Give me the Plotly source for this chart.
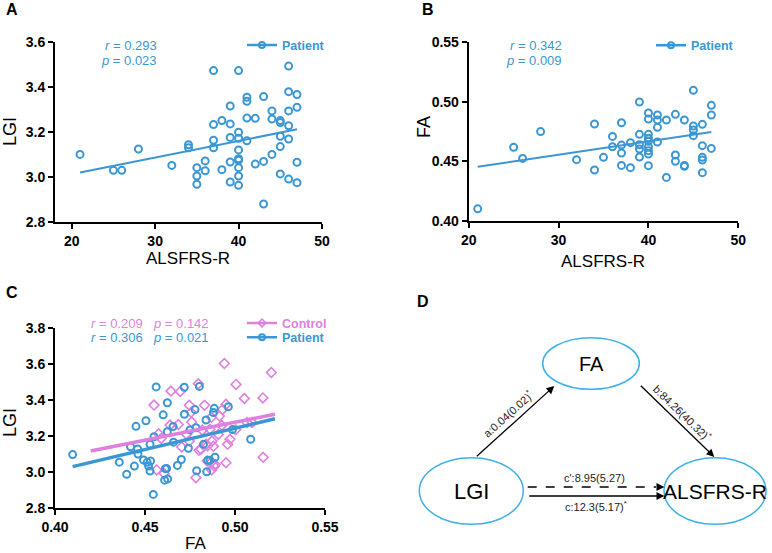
import plotly.graph_objects as go

W, H = 772, 553
FONT = "Arial, 'Liberation Sans', sans-serif"
BLUE = "#3b97d3"
PINK = "#df7fe0"
ELL = "#3eb1e6"

# ---------------- data ----------------
# Panel A: ALSFRS-R vs LGI (patients)
a_alsfrs = [21, 25, 26, 28, 32, 34, 34, 35, 35, 35, 36, 36, 37, 37, 37, 37, 38, 38,
            39, 39, 39, 39, 39, 40, 40, 40, 40, 40, 40, 40, 40, 40, 41, 41, 41, 41,
            42, 42, 43, 43, 43, 44, 44, 44, 45, 45, 45, 45, 45, 46, 46, 46, 46, 46, 46,
            47, 47, 47, 47]
a_lgi = [3.100, 3.029, 3.029, 3.124, 3.051, 3.143, 3.130, 3.041, 3.004, 2.967, 3.071, 3.027,
         3.474, 3.233, 3.163, 3.130, 3.251, 3.032, 3.316, 3.236, 3.176, 3.066, 2.977,
         3.474, 3.199, 3.172, 3.120, 3.081, 3.074, 3.041, 3.004, 2.962,
         3.355, 3.337, 3.262, 3.161, 3.261, 3.057, 3.358, 3.069, 2.879,
         3.294, 3.258, 3.100, 3.251, 3.242, 3.181, 3.135, 3.013,
         3.494, 3.380, 3.294, 3.228, 3.169, 2.990, 3.367, 3.310, 3.065, 2.974]
a_fit_x = [21, 47]
a_fit_y = [3.019, 3.212]

# Panel B: ALSFRS-R vs FA (patients)
b_alsfrs = [21, 25, 26, 28, 32, 34, 34, 35, 36, 36, 37, 37, 37, 37, 38, 38,
            39, 39, 39, 39, 39, 40, 40, 40, 40, 40, 40, 40, 40, 40, 41, 41, 41, 41,
            42, 42, 43, 43, 43, 44, 44, 44, 45, 45, 45, 45, 46, 46, 46, 46, 46, 47, 47, 47]
b_fa = [0.4100, 0.4617, 0.4524, 0.4749, 0.4513, 0.4813, 0.4426, 0.4533, 0.4709, 0.4622,
        0.4824, 0.4636, 0.4569, 0.4465, 0.4656, 0.4446,
        0.4998, 0.4726, 0.4639, 0.4603, 0.4536,
        0.4906, 0.4855, 0.4726, 0.4693, 0.4667, 0.4622, 0.4589, 0.4561, 0.4463,
        0.4889, 0.4847, 0.4785, 0.4662, 0.4847, 0.4364, 0.4894, 0.4552, 0.4499,
        0.4847, 0.4465, 0.4457, 0.5096, 0.4796, 0.4763, 0.4715,
        0.4810, 0.4631, 0.4533, 0.4510, 0.4404, 0.4970, 0.4889, 0.4608]
b_fit_x = [21, 47]
b_fit_y = [0.4454, 0.4746]

# Panel C: FA vs LGI, controls and patients
c_ctrl_fa = [0.4550, 0.4565, 0.4576, 0.4590, 0.4606, 0.4639, 0.4644, 0.4685, 0.4696, 0.4704,
             0.4731, 0.4746, 0.4746, 0.4756, 0.4759, 0.4783, 0.4796, 0.4800, 0.4811, 0.4818,
             0.4831, 0.4840, 0.4846, 0.4848, 0.4861, 0.4865, 0.4869, 0.4870, 0.4872, 0.4880,
             0.4885, 0.4889, 0.4907, 0.4913, 0.4926, 0.4931, 0.4941, 0.4950, 0.4950, 0.4959,
             0.4972, 0.5004, 0.5006, 0.5052, 0.5067, 0.5095, 0.5155, 0.5156, 0.5202]
c_ctrl_lgi = [3.370, 3.010, 3.211, 3.185, 2.990, 3.259, 3.448, 3.262, 3.446, 3.137,
              3.207, 3.170, 3.369, 3.330, 3.276, 2.967, 3.488, 3.119, 3.125, 3.231,
              3.369, 3.152, 3.059, 3.144, 3.236, 3.050, 3.302, 3.010, 3.170, 3.141,
              3.031, 3.040, 3.207, 3.309, 3.257, 3.346, 3.601, 3.050, 3.374, 3.152,
              3.180, 3.233, 3.485, 3.407, 3.273, 3.273, 3.410, 3.080, 3.551]
c_pat_fa = [0.4098, 0.4357, 0.4398, 0.4420, 0.4441, 0.4450, 0.4459, 0.4461, 0.4492, 0.4505,
            0.4512, 0.4520, 0.4528, 0.4528, 0.4531, 0.4550, 0.4546, 0.4562, 0.4601, 0.4609,
            0.4613, 0.4624, 0.4624, 0.4626, 0.4620, 0.4656, 0.4659, 0.4680, 0.4702, 0.4719,
            0.4718, 0.4741, 0.4750, 0.4778, 0.4783, 0.4787, 0.4802, 0.4825, 0.4839, 0.4843,
            0.4848, 0.4861, 0.4880, 0.4885, 0.4889, 0.4963, 0.4986, 0.5087]
c_pat_lgi = [3.095, 3.053, 2.986, 3.138, 3.031, 3.252, 3.126, 3.098, 3.065, 3.283,
             3.052, 3.031, 3.152, 3.004, 3.059, 3.194, 2.874, 3.471, 3.316, 2.953,
             3.017, 3.383, 3.222, 2.960, 3.018, 3.251, 3.164, 3.035, 3.068, 3.319,
             3.469, 3.130, 3.232, 3.345, 3.244, 3.005, 3.474, 3.152, 3.287, 3.000,
             3.063, 3.063, 3.329, 3.352, 3.080, 3.361, 3.234, 3.180]
c_ctrl_fit_x = [0.4198, 0.5222]
c_ctrl_fit_y = [3.115, 3.319]
c_pat_fit_x = [0.4098, 0.5222]
c_pat_fit_y = [3.028, 3.294]

# tick labels
a_xticks = [20, 30, 40, 50]
a_yticks = [2.8, 3.0, 3.2, 3.4, 3.6]
b_yticks = [0.40, 0.45, 0.50, 0.55]
c_xticks = [0.40, 0.45, 0.50, 0.55]
c_yticks = [2.8, 3.0, 3.2, 3.4, 3.6, 3.8]


def px(x):
    return x / W


def py(y):
    return 1 - y / H


fig = go.Figure()

circ = dict(symbol="circle-open", size=7, color=BLUE, line=dict(width=2, color=BLUE))
diam = dict(symbol="diamond-open", size=7.5, color=PINK, line=dict(width=1.6, color=PINK))
diam_leg = dict(symbol="diamond-open", size=6, color=PINK, line=dict(width=1.6, color=PINK))
circ_leg = dict(symbol="circle-open", size=6, color=BLUE, line=dict(width=2, color=BLUE))

# Panel A
fig.add_trace(go.Scatter(x=a_alsfrs, y=a_lgi, mode="markers", marker=circ, showlegend=False,
                         xaxis="x", yaxis="y", cliponaxis=False))
fig.add_trace(go.Scatter(x=a_fit_x, y=a_fit_y, mode="lines", line=dict(color=BLUE, width=2),
                         showlegend=False, xaxis="x", yaxis="y"))
fig.add_trace(go.Scatter(x=[None], y=[None], mode="lines+markers", marker=circ_leg,
                         line=dict(color=BLUE, width=2.5), name="Patient", legend="legend",
                         xaxis="x", yaxis="y"))
# Panel B
fig.add_trace(go.Scatter(x=b_alsfrs, y=b_fa, mode="markers", marker=circ, showlegend=False,
                         xaxis="x2", yaxis="y2", cliponaxis=False))
fig.add_trace(go.Scatter(x=b_fit_x, y=b_fit_y, mode="lines", line=dict(color=BLUE, width=2),
                         showlegend=False, xaxis="x2", yaxis="y2"))
fig.add_trace(go.Scatter(x=[None], y=[None], mode="lines+markers", marker=circ_leg,
                         line=dict(color=BLUE, width=2.5), name="Patient", legend="legend2",
                         xaxis="x2", yaxis="y2"))
# Panel C
fig.add_trace(go.Scatter(x=c_ctrl_fa, y=c_ctrl_lgi, mode="markers", marker=diam, showlegend=False,
                         xaxis="x3", yaxis="y3", cliponaxis=False))
fig.add_trace(go.Scatter(x=c_pat_fa, y=c_pat_lgi, mode="markers", marker=circ, showlegend=False,
                         xaxis="x3", yaxis="y3", cliponaxis=False))
fig.add_trace(go.Scatter(x=c_ctrl_fit_x, y=c_ctrl_fit_y, mode="lines", line=dict(color=PINK, width=3.5),
                         showlegend=False, xaxis="x3", yaxis="y3"))
fig.add_trace(go.Scatter(x=c_pat_fit_x, y=c_pat_fit_y, mode="lines", line=dict(color=BLUE, width=3.5),
                         showlegend=False, xaxis="x3", yaxis="y3"))
fig.add_trace(go.Scatter(x=[None], y=[None], mode="lines+markers", marker=diam_leg,
                         line=dict(color=PINK, width=2.5), name="Control", legend="legend3",
                         xaxis="x3", yaxis="y3"))
fig.add_trace(go.Scatter(x=[None], y=[None], mode="lines+markers", marker=circ_leg,
                         line=dict(color=BLUE, width=2.5), name="Patient", legend="legend4",
                         xaxis="x3", yaxis="y3"))

tickfont = dict(family=FONT, size=14, color="black", weight="bold")
axis_common = dict(showline=True, linecolor="black", linewidth=2, ticks="outside", ticklen=5,
                   tickwidth=2, tickcolor="black", showgrid=False, zeroline=False,
                   tickfont=tickfont, fixedrange=True, automargin=False)

fig.update_layout(
    width=W, height=H, margin=dict(l=0, r=0, t=0, b=0, autoexpand=False),
    paper_bgcolor="white", plot_bgcolor="white",
    xaxis=dict(domain=[px(55), px(322)], range=[18, 50], tickvals=a_xticks, anchor="y", **axis_common),
    yaxis=dict(domain=[py(221.7), py(42.3)], range=[2.8, 3.6], tickvals=a_yticks, tickformat=".1f",
               anchor="x", **axis_common),
    xaxis2=dict(domain=[px(468.7), px(738.3)], range=[20, 50], tickvals=a_xticks, anchor="y2", **axis_common),
    yaxis2=dict(domain=[py(220.7), py(42.3)], range=[0.40, 0.55], tickvals=b_yticks, tickformat=".2f",
                anchor="x2", **axis_common),
    xaxis3=dict(domain=[px(55), px(325)], range=[0.40, 0.55], tickvals=c_xticks, tickformat=".2f",
                anchor="y3", **axis_common),
    yaxis3=dict(domain=[py(507.7), py(327.7)], range=[2.8, 3.8], tickvals=c_yticks, tickformat=".1f",
                anchor="x3", **axis_common),
)

leg_common = dict(bgcolor="rgba(0,0,0,0)", borderwidth=0, xanchor="left", yanchor="middle",
                  itemwidth=30, tracegroupgap=0)
fig.update_layout(
    legend=dict(x=px(242), y=py(45.3), font=dict(family=FONT, size=12.5, color=BLUE, weight="bold"), **leg_common),
    legend2=dict(x=px(651), y=py(45.7), font=dict(family=FONT, size=12.5, color=BLUE, weight="bold"), **leg_common),
    legend3=dict(x=px(242), y=py(323.3), font=dict(family=FONT, size=12.5, color=PINK, weight="bold"), **leg_common),
    legend4=dict(x=px(242), y=py(337.7), font=dict(family=FONT, size=12.5, color=BLUE, weight="bold"), **leg_common),
)

ann = []


def text(x, y, t, size=13, color="black", bold=False, xanchor="center", angle=0):
    ann.append(dict(x=px(x), y=py(y), xref="paper", yref="paper", text=t, showarrow=False,
                    xanchor=xanchor, yanchor="middle", textangle=angle, borderpad=0,
                    font=dict(family=FONT, size=size, color=color, weight="bold" if bold else "normal")))


# panel letters
text(12, 10, "A", 16, bold=True)
text(428, 10, "B", 16, bold=True)
text(12, 292, "C", 16, bold=True)
text(423, 301, "D", 16, bold=True)

# axis titles
text(188, 258, "ALSFRS-R", 17)
text(10, 132, "LGI", 18, angle=-90)
text(603, 261, "ALSFRS-R", 17)
text(424, 127, "FA", 18, angle=-90)
text(195, 543, "FA", 17)
text(10, 423, "LGI", 18, angle=-90)

# statistics
text(158, 45.7, "<i>r</i> = 0.293", 13, BLUE, xanchor="right")
text(158, 61, "<i>p</i> = 0.023", 13, BLUE, xanchor="right")
text(563, 45.7, "<i>r</i> = 0.342", 13, BLUE, xanchor="right")
text(563, 61, "<i>p</i> = 0.009", 13, BLUE, xanchor="right")
text(90, 323.3, "<i>r</i> = 0.209", 13, PINK, xanchor="left")
text(152, 323.3, "<i>p</i> = 0.142", 13, PINK, xanchor="left")
text(90, 337.7, "<i>r</i> = 0.306", 13, BLUE, xanchor="left")
text(152, 337.7, "<i>p</i> = 0.021", 13, BLUE, xanchor="left")

# Panel D: mediation diagram
shapes = []


def ellipse(cx, cy, rx, ry):
    shapes.append(dict(type="circle", xref="paper", yref="paper",
                       x0=px(cx - rx), x1=px(cx + rx), y0=py(cy + ry), y1=py(cy - ry),
                       line=dict(color=ELL, width=1.5), fillcolor="rgba(0,0,0,0)"))


ellipse(591, 363.5, 48.3, 25.8)
ellipse(471.3, 491, 52, 33.3)
ellipse(715, 491, 51, 33.3)
text(591, 363.5, "FA", 20)
text(471.3, 491, "LGI", 22)
text(715, 491, "ALSFRS-R", 21)


def arrow(hx, hy, tx, ty):
    ann.append(dict(x=px(hx), y=py(hy), xref="paper", yref="paper", text="",
                    ax=tx - hx, ay=ty - hy, axref="pixel", ayref="pixel",
                    showarrow=True, arrowhead=2, arrowsize=1.2, arrowwidth=1.3, arrowcolor="black"))


arrow(554.3, 386, 475.3, 457.7)
arrow(714.3, 457, 639.3, 384.3)
arrow(664.3, 496, 527.7, 496)
shapes.append(dict(type="line", xref="paper", yref="paper", x0=px(527.7), x1=px(656), y0=py(487), y1=py(487),
                   line=dict(color="black", width=1.3, dash="dash")))
arrow(664.3, 487, 656, 487)

text(507.7, 414.3, "a:0.04(0.02)<sup>*</sup>", 11, "#222", angle=-42)
text(682.7, 412.7, "b:84.26(40.32)<sup>*</sup>", 11, "#222", angle=44)
text(594.3, 478.3, "c':8.95(5.27)", 11, "#222")
text(596, 506, "c:12.3(5.17)<sup>*</sup>", 11, "#222")

fig.update_layout(annotations=ann, shapes=shapes)
fig.write_html("out.html")
